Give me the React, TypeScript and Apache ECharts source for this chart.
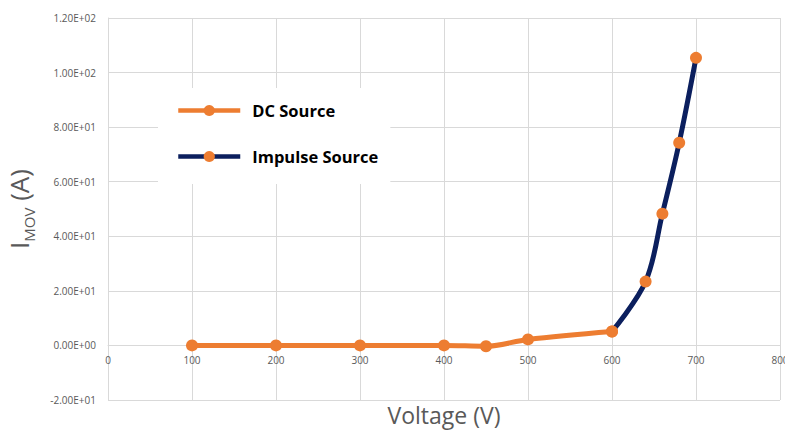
import React, { useEffect, useRef } from "react";
import * as echarts from "echarts";

const dcVoltage = [100, 200, 300, 400, 450, 500, 600];
const dcCurrent = [0, 0, 0, 0, -0.3, 2.2, 5.1];
const impulseVoltage = [600, 640, 660, 680, 700];
const impulseCurrent = [5.1, 23.4, 48.3, 74.3, 105.4];
const seriesNames = ["DC Source", "Impulse Source"];
const yMin = -20;
const yMax = 120;

const ORANGE = "#ED7D31";
const NAVY = "#0B1F5E";
const GRID = "#d9d9d9";
const LABEL = "#595959";
const FONT = "'Open Sans', 'Noto Sans', sans-serif";

const GRID_TOP = 18;
const GRID_BOTTOM = 32;
const CHART_H = 432;

function sci(v: number): string {
  if (v === 0) return "0.00E+00";
  const e = Math.floor(Math.log10(Math.abs(v)) + 1e-9);
  const m = v / Math.pow(10, e);
  return m.toFixed(2) + "E" + (e < 0 ? "-" : "+") + String(Math.abs(e)).padStart(2, "0");
}

export default function App() {
  const ref = useRef<HTMLDivElement>(null);
  useEffect(() => {
    if (!ref.current) return;
    const chart = echarts.init(ref.current, null, { renderer: "svg" });
    const plotH = CHART_H - GRID_TOP - GRID_BOTTOM;
    const zeroOffset = (-yMin / (yMax - yMin)) * plotH;
    chart.setOption({
      animation: false,
      backgroundColor: "#ffffff",
      textStyle: { fontFamily: FONT },
      grid: { left: 108, right: 5, top: GRID_TOP, bottom: GRID_BOTTOM, containLabel: false, outerBoundsMode: "none" },
      legend: {
        data: seriesNames,
        orient: "vertical",
        left: 158,
        top: 88,
        backgroundColor: "#ffffff",
        padding: [14, 12, 19, 18],
        itemWidth: 62,
        itemHeight: 14,
        itemGap: 29,
        lineStyle: { width: 4.5 },
        textStyle: {
          fontFamily: FONT,
          fontSize: 16.5,
          fontWeight: "bold",
          color: "#000000",
          padding: [0, 0, 0, 7],
        },
      },
      xAxis: {
        type: "value",
        min: 0,
        max: 800,
        interval: 100,
        offset: -zeroOffset,
        name: "Voltage (V)",
        nameLocation: "middle",
        nameGap: 58,
        nameTextStyle: { fontFamily: FONT, fontSize: 23, color: LABEL },
        axisLine: { onZero: false, lineStyle: { color: GRID } },
        axisTick: { show: false },
        axisLabel: { color: LABEL, fontSize: 10, margin: 10, showMaxLabel: true },
        splitLine: { show: true, lineStyle: { color: GRID, width: 1 } },
      },
      yAxis: {
        type: "value",
        min: yMin,
        max: yMax,
        interval: 20,
        name: "{a|I}{b|MOV}{a| (A)}",
        nameLocation: "middle",
        nameGap: 76,
        nameRotate: 90,
        nameTextStyle: {
          color: LABEL,
          rich: {
            a: { fontFamily: FONT, fontSize: 26, color: LABEL, lineHeight: 34, verticalAlign: "bottom" },
            b: { fontFamily: FONT, fontSize: 15, color: LABEL, lineHeight: 34, verticalAlign: "bottom", padding: [0, 0, -4, 0] },
          },
        },
        axisLine: { show: true, onZero: false, lineStyle: { color: GRID } },
        axisTick: { show: false },
        axisLabel: { color: LABEL, fontSize: 10, margin: 12, formatter: (v: number) => sci(v) },
        splitLine: { show: true, lineStyle: { color: GRID, width: 1 } },
      },
      series: [
        {
          name: seriesNames[0],
          type: "line",
          smooth: 0.35,
          data: dcVoltage.map((x, i) => [x, dcCurrent[i]]),
          symbol: "circle",
          symbolSize: 12,
          lineStyle: { color: ORANGE, width: 5 },
          itemStyle: { color: ORANGE },
          z: 3,
        },
        {
          name: seriesNames[1],
          type: "line",
          smooth: 0.35,
          data: impulseVoltage.map((x, i) => [x, impulseCurrent[i]]),
          symbol: "circle",
          symbolSize: 12,
          lineStyle: { color: NAVY, width: 5 },
          itemStyle: { color: ORANGE },
          z: 2,
        },
      ],
    });
    return () => chart.dispose();
  }, []);
  return (
    <div
      ref={ref}
      style={{ position: "fixed", left: 0, top: 0, width: 785, height: CHART_H }}
    />
  );
}
